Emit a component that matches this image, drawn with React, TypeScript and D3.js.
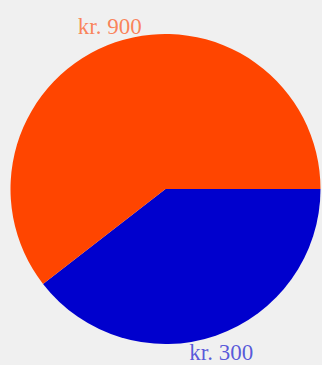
import React from "react";
import * as d3 from "d3";

const categories = ["blue", "orange"];
const sliceShares = [39.5, 60.5];
const labels = ["kr. 300", "kr. 900"];
const colors = ["#0000cd", "#ff4500"];

const W = 322;
const H = 365;

export default function App() {
  const cx = 165.5;
  const cy = 189;
  const r = 155;
  const labelR = 172;
  const pie = d3
    .pie<number>()
    .sort(null)
    .startAngle(Math.PI / 2)
    .endAngle(Math.PI / 2 + 2 * Math.PI)
    .value((d) => d);
  const arcs = pie(sliceShares);
  const arc = d3.arc<d3.PieArcDatum<number>>().innerRadius(0).outerRadius(r);
  const labelArc = d3
    .arc<d3.PieArcDatum<number>>()
    .innerRadius(labelR)
    .outerRadius(labelR);
  return (
    <svg
      width={W}
      height={H}
      style={{ position: "fixed", left: 0, top: 0, background: "#f0f0f0" }}
    >
      <g transform={`translate(${cx},${cy})`}>
        {arcs.map((a, i) => (
          <path key={categories[i]} d={arc(a) || ""} fill={colors[i]} />
        ))}
        {arcs.map((a, i) => {
          const [x, y] = labelArc.centroid(a);
          return (
            <text
              key={"l" + i}
              x={x}
              y={y}
              dy="0.35em"
              textAnchor="middle"
              fontFamily="'Liberation Serif', 'DejaVu Serif', serif"
              fontSize={23}
              fill={colors[i]}
              fillOpacity={0.65}
            >
              {labels[i]}
            </text>
          );
        })}
      </g>
    </svg>
  );
}
